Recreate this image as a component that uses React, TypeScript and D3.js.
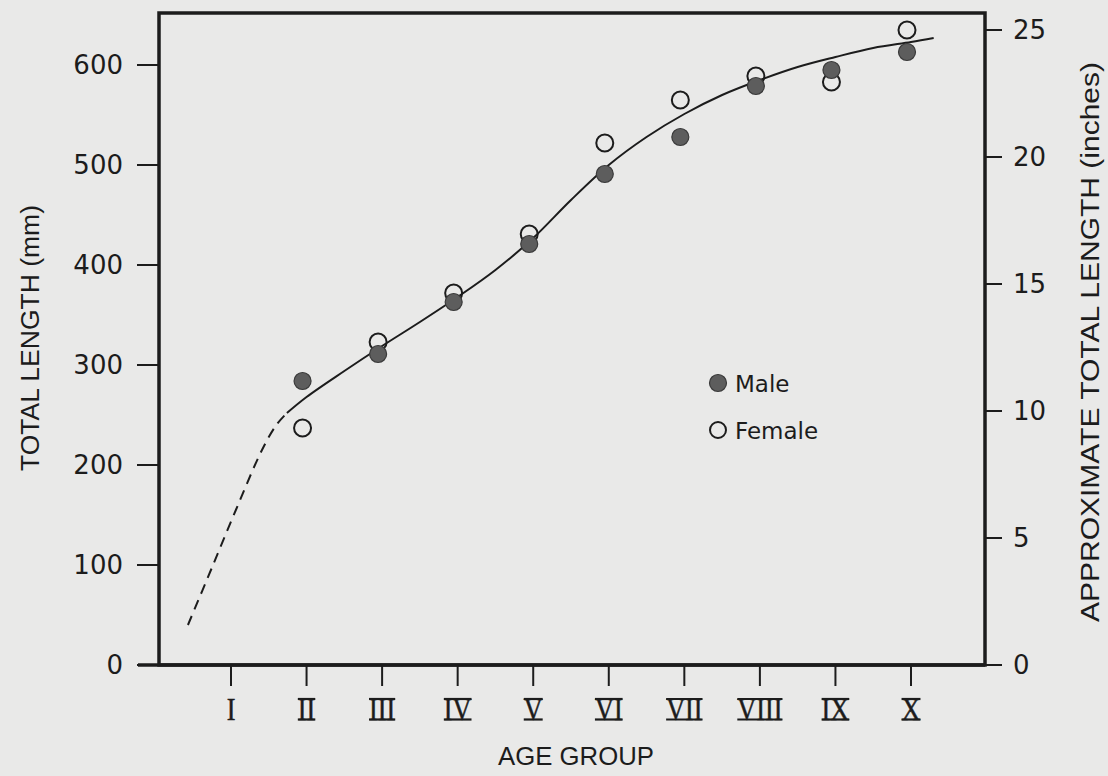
import { useEffect, useRef } from "react";
import * as d3 from "d3";

const AGE_GROUPS = ["I", "II", "III", "IV", "V", "VI", "VII", "VIII", "IX", "X"];
const MALE_MM = [null, 284, 311, 363, 421, 491, 528, 579, 595, 613];
const FEMALE_MM = [null, 237, 323, 372, 431, 522, 565, 589, 583, 635];

// fitted growth curve: dashed extrapolation + solid part
const EXTRAP_AGE = [0.43, 0.74, 1.07, 1.41, 1.6, 1.74];
const EXTRAP_MM = [40, 96, 156, 215, 240, 252];
const FIT_AGE = [1.74, 2, 2.5, 3, 3.5, 4, 4.5, 5, 5.5, 6, 6.5, 7, 7.5, 8, 8.5, 9, 9.5, 10, 10.3];
const FIT_MM = [252, 268, 294, 319, 343, 368, 395, 427, 465, 500, 528, 551, 570, 585, 598, 608, 617, 623, 627];

const MM_TICKS = [0, 100, 200, 300, 400, 500, 600];
const INCH_TICKS = [0, 5, 10, 15, 20, 25];

const INK = "#1c1c1c";
const SANS = "'DejaVu Sans', sans-serif";
const NARROW = "'Liberation Sans Narrow', 'Liberation Sans', sans-serif";

export default function App() {
  const ref = useRef<SVGSVGElement>(null);
  useEffect(() => {
    const el = ref.current;
    if (!el) return;
    const W = 1108, H = 776;
    const M = { left: 159, right: 985, top: 13, bottom: 665 };
    const svg = d3.select(el).attr("width", W).attr("height", H).attr("viewBox", `0 0 ${W} ${H}`);
    svg.selectAll("*").remove();

    svg.append("rect").attr("width", W).attr("height", H).attr("fill", "#e9e9e8");

    const x = d3.scaleLinear().domain([1, 10]).range([231, 911]);
    const y = d3.scaleLinear().domain([0, 600]).range([M.bottom, M.bottom - 600]);
    const yIn = (v: number) => y(v * 25.4);

    // frame
    svg.append("rect").attr("x", M.left).attr("y", M.top).attr("width", M.right - M.left).attr("height", M.bottom - M.top)
      .attr("fill", "none").attr("stroke", INK).attr("stroke-width", 3.5);

    // left axis
    MM_TICKS.forEach((t) => {
      svg.append("line").attr("x1", M.left - 22).attr("x2", M.left).attr("y1", y(t)).attr("y2", y(t)).attr("stroke", INK).attr("stroke-width", 2);
      svg.append("text").attr("x", 123).attr("y", y(t) + 9).attr("text-anchor", "end").attr("fill", INK)
        .attr("font-size", 26).attr("font-family", SANS).text(t);
    });
    svg.append("text").attr("transform", `translate(39,338) rotate(-90)`).attr("text-anchor", "middle").attr("fill", INK)
      .attr("font-size", 25).attr("font-family", NARROW).attr("textLength", 266).attr("lengthAdjust", "spacingAndGlyphs")
      .text("TOTAL LENGTH (mm)");

    // right axis (inches)
    INCH_TICKS.forEach((t) => {
      svg.append("line").attr("x1", M.right).attr("x2", M.right + 17).attr("y1", yIn(t)).attr("y2", yIn(t)).attr("stroke", INK).attr("stroke-width", 2);
      svg.append("text").attr("x", 1013).attr("y", yIn(t) + 9).attr("text-anchor", "start").attr("fill", INK)
        .attr("font-size", 26).attr("font-family", SANS).text(t);
    });
    svg.append("text").attr("transform", `translate(1099,342) rotate(-90)`).attr("text-anchor", "middle").attr("fill", INK)
      .attr("font-size", 25).attr("font-family", NARROW).attr("textLength", 560).attr("lengthAdjust", "spacingAndGlyphs")
      .text("APPROXIMATE TOTAL LENGTH (inches)");

    // bottom axis with barred roman numerals
    svg.append("line").attr("x1", 138).attr("x2", M.right).attr("y1", M.bottom).attr("y2", M.bottom).attr("stroke", INK).attr("stroke-width", 3.5);
    AGE_GROUPS.forEach((g, i) => {
      const cx = x(i + 1);
      svg.append("line").attr("x1", cx).attr("x2", cx).attr("y1", M.bottom).attr("y2", M.bottom + 21).attr("stroke", INK).attr("stroke-width", 2);
      const lab = svg.append("g").attr("transform", `translate(${cx},720) scale(0.82,1)`);
      const t = lab.append("text").attr("text-anchor", "middle").attr("fill", INK).attr("stroke", INK).attr("stroke-width", 0.5)
        .attr("font-size", 32).attr("font-family", "'Liberation Serif', serif").text(g);
      if (g !== "I") {
        const w = (t.node() as SVGTextElement).getComputedTextLength();
        [-21, -0.5].forEach((by) => {
          lab.append("line").attr("x1", -w / 2).attr("x2", w / 2).attr("y1", by).attr("y2", by).attr("stroke", INK).attr("stroke-width", 2.2);
        });
      }
    });
    svg.append("text").attr("x", 576).attr("y", 765).attr("text-anchor", "middle").attr("fill", INK)
      .attr("font-size", 26).attr("font-family", NARROW).attr("textLength", 156).attr("lengthAdjust", "spacingAndGlyphs")
      .text("AGE GROUP");

    // growth curve
    const line = d3.line<[number, number]>().x((d) => x(d[0])).y((d) => y(d[1])).curve(d3.curveCatmullRom.alpha(0.5));
    svg.append("path").attr("d", line(EXTRAP_AGE.map((a, i) => [a, EXTRAP_MM[i]]))).attr("fill", "none")
      .attr("stroke", INK).attr("stroke-width", 2).attr("stroke-dasharray", "10 7");
    svg.append("path").attr("d", line(FIT_AGE.map((a, i) => [a, FIT_MM[i]]))).attr("fill", "none")
      .attr("stroke", INK).attr("stroke-width", 2);

    // points: open (female) first, filled (male) on top
    FEMALE_MM.forEach((v, i) => {
      if (v == null) return;
      svg.append("circle").attr("cx", x(i + 1) - 4).attr("cy", y(v)).attr("r", 8.5).attr("fill", "none").attr("stroke", INK).attr("stroke-width", 2);
    });
    MALE_MM.forEach((v, i) => {
      if (v == null) return;
      svg.append("circle").attr("cx", x(i + 1) - 4).attr("cy", y(v)).attr("r", 8.5).attr("fill", "#5d5d5d").attr("stroke", "#3a3a3a").attr("stroke-width", 1.2);
    });

    // legend
    svg.append("circle").attr("cx", 718).attr("cy", 383).attr("r", 8.5).attr("fill", "#5d5d5d").attr("stroke", "#3a3a3a").attr("stroke-width", 1.2);
    svg.append("text").attr("x", 735).attr("y", 392).attr("fill", INK).attr("font-size", 23).attr("font-family", SANS).text("Male");
    svg.append("circle").attr("cx", 718).attr("cy", 430).attr("r", 8).attr("fill", "none").attr("stroke", INK).attr("stroke-width", 2);
    svg.append("text").attr("x", 735).attr("y", 439).attr("fill", INK).attr("font-size", 23).attr("font-family", SANS).text("Female");
  }, []);
  return <svg ref={ref} role="img" aria-label="Total length by age group" style={{ position: "absolute", left: 0, top: 0 }} />;
}
